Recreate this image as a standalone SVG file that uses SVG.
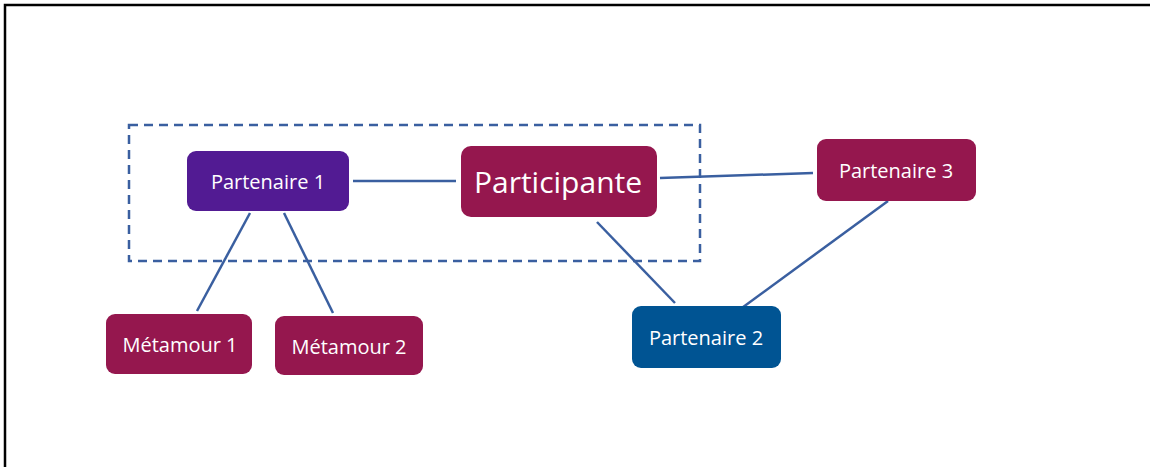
<svg xmlns="http://www.w3.org/2000/svg" width="1150" height="467" viewBox="0 0 1150 467">
<style>
.node text{font-family:"Open Sans","Noto Sans",sans-serif;fill:#fff;text-anchor:middle;dominant-baseline:central}
.lbl{font-size:20px}
.big{font-size:30px}
.link{stroke:#3A5FA0;stroke-width:2.5;fill:none}
</style>
<rect x="0" y="0" width="1150" height="467" fill="#fff"/>
<rect x="5" y="5" width="1170" height="490" fill="none" stroke="#000" stroke-width="2.5"/>
<rect id="group" x="129" y="125" width="571" height="136" fill="none" stroke="#3A5FA0" stroke-width="2.5" stroke-dasharray="9,6"/>
<g id="connectors">
<line class="link" x1="353" y1="181" x2="456" y2="181"/>
<line class="link" x1="660" y1="178" x2="813" y2="173"/>
<line class="link" x1="597" y1="222" x2="675" y2="303"/>
<line class="link" x1="888" y1="201" x2="735" y2="313"/>
<line class="link" x1="250" y1="213" x2="197" y2="311"/>
<line class="link" x1="284" y1="213" x2="333" y2="313"/>
</g>
<g id="partenaire1" class="node"><rect x="187" y="151" width="162" height="60" rx="9" fill="#521B93"/><text class="lbl" x="268" y="181">Partenaire 1</text></g>
<g id="participante" class="node"><rect x="461" y="146" width="196" height="71" rx="10" fill="#95174E"/><text class="big" x="558" y="181">Participante</text></g>
<g id="partenaire3" class="node"><rect x="817" y="139" width="159" height="62" rx="9" fill="#95174E"/><text class="lbl" x="896" y="170">Partenaire 3</text></g>
<g id="partenaire2" class="node"><rect x="632" y="306" width="149" height="62" rx="9" fill="#005493"/><text class="lbl" x="706" y="337">Partenaire 2</text></g>
<g id="metamour1" class="node"><rect x="106" y="314" width="146" height="60" rx="9" fill="#95174E"/><text class="lbl" x="180" y="344">Métamour 1</text></g>
<g id="metamour2" class="node"><rect x="275" y="316" width="148" height="59" rx="9" fill="#95174E"/><text class="lbl" x="349" y="346">Métamour 2</text></g>
</svg>
